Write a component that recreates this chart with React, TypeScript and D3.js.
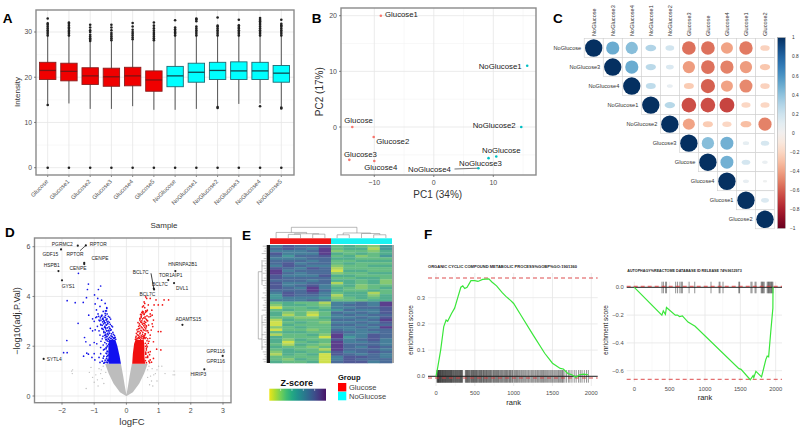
import React from "react";
import * as d3 from "d3";

const FONT = "'Liberation Sans', Arial, sans-serif";
const AXC = "#4d4d4d";

// ---------- Panel A ----------
const sampleNames = ["Glucose","Glucose1","Glucose2","Glucose3","Glucose4","Glucose5","NoGlucose","NoGlucose1","NoGlucose2","NoGlucose3","NoGlucose4","NoGlucose5"];
const q1 = [19.5,19.2,18.4,18.0,18.1,16.9,17.9,18.9,19.5,19.5,19.5,18.9];
const med = [21.5,21.3,20.3,20.1,20.3,19.4,20.3,21.1,21.5,21.4,21.4,20.9];
const q3 = [23.3,23.1,22.1,22.0,22.2,21.4,22.4,23.1,23.3,23.4,23.3,22.6];
const whiskLo = [13.9,14.2,13.0,13.0,13.6,12.8,12.8,13.0,13.5,14.1,14.2,13.5];
const whiskHi = [29.0,29.0,27.8,28.0,28.2,28.0,29.0,29.0,29.0,29.0,29.0,29.0];
const outHi = [
  [29.2,29.6,30,30.4,30.8,31.2,31.6,31.9,33.0],
  [29.2,29.6,30,30.3,30.7,31,31.4,31.8,32.1],
  [28,28.3,28.6,29,29.4,30,30.4,31,31.6],
  [28.2,28.6,29,29.4,29.8,30.4,31,31.6],
  [28.4,28.8,29.2,29.6,30,30.5,31.2,32],
  [28.2,28.6,29,29.4,29.8,30.3,30.8,31.4,32.1],
  [29.2,29.6,29.9,30.2,30.6,31,32.6],
  [29.2,29.6,30,30.4,30.8,31.2,32.4,32.8,33],
  [29.2,29.6,30,30.4,30.8,31.2,31.4,33.2],
  [29.2,29.6,30,30.4,30.8,31.1,31.5,32.7],
  [29.2,29.6,30,30.4,30.8,31.2,31.6,32,32.4,32.7,33.1],
  [29.2,29.6,30,30.4,30.8,31.2,31.5,31.8,32.7],
];
const outLo = [[13.85],[],[],[],[],[],[],[],[13.2,13.4],[],[13.6],[13.1,13.3]];
const zeroOutlier = 0;
const intensityTicks = [0,10,20,30];
const intensityMinor = [5,15,25];

// ---------- Panel B ----------
const pcaNames = ["Glucose1","Glucose","Glucose2","Glucose3","Glucose4","NoGlucose1","NoGlucose2","NoGlucose","NoGlucose3","NoGlucose4"];
const pc1 = [-8.9,-13.7,-10.1,-14.2,-10,15.7,14.7,10.5,9.2,7.5];
const pc2 = [20,0,-1.8,-5.9,-6.1,11,0,-5.3,-5.6,-7.4];
const pcaLabelX = [385,344.3,376.3,344,364.3,478.7,472.7,482,459,408];
const pcaLabelY = [14.3,120,141,153.7,166.7,65.7,125.3,150.3,162.7,169.3];

// ---------- Panel C ----------
const corrNames = ["NoGlucose","NoGlucose3","NoGlucose4","NoGlucose1","NoGlucose2","Glucose3","Glucose","Glucose4","Glucose1","Glucose2"];
const corrUpper = [
  [1,.5,.42,.3,.18,-.55,-.55,-.4,-.52,-.22],
  [1,.5,.27,.14,-.42,-.55,-.5,-.42,-.27],
  [1,.25,.07,-.25,-.6,-.4,-.48,-.22],
  [1,.28,-.65,-.65,-.68,-.2,-.2],
  [1,-.4,-.25,-.2,-.3,-.5],
  [1,.42,.48,.08,.16],
  [1,.48,.17,.06],
  [1,.07,.03],
  [1,.14],
  [1],
];
const corrTicks = [1,.8,.6,.4,.2,0,-.2,-.4,-.6,-.8,-1];

// ---------- Panel D ----------
const blueLogFC = [-1.49,-1.18,-1.21,-.8,-.87,-.99,-1.84,-1.59,-1.34,-1.24,-.89,-.77,-.97,-.82,-.66,-.61,-.93,-.72,-.62,-1.17,-1.05,-.95,-1,-.85,-.73,-.68,-.79,-.9,-1.12,-1.05,-.97,-.85,-.75,-.82,-.73,-1.5,-1.85,-1.3,-1.26,-1.13,-1,-.92,-.79,-.72,-.8,-.71,-1.95,-1.84,-1.23,-1.07,-1,-.98,-.85,-.8,-.75,-.7,-.82,-.68,-1.33,-1.18,-.88,-.76,-.66,-.6,-.92,-.78,-.65,-.74,-.63,-.6,-.69,-.62,-.58,-.65,-.6,-.7,-.75,-.64,-.59,-.62,-.67,-.57,-.55,-.6,-.68,-.63,-.58,-.54,-.72,-.66,-.61,-.57,-.53,-.59,-.63,-.7,-.56,-.61,-.65,-.52,
  -.86,-.81,-.77,-.73,-.69,-.65,-.6,-.56,-.52,-.83,-.79,-.74,-.7,-.66,-.62,-.57,-.53,-.49,-.8,-.75,-.71,-.67,-.63,-.58,-.54,-.5,-.46,-.76,-.72,-.68,-.64,-.59,-.55,-.51,-.47,-.43,-.7,-.66,-.62,-.58,-.54,-.5,-.46,-.42,-.68,-.64,-.6,-.56,-.52,-.48,-.44,-.4,-.37,-.66,-.61,-.57,-.53,-.49,-.45,-.41,-.38,-.35,-.64,-.6,-.55,-.51,-.47,-.43,-.39,-.36,-.33,-.62,-.59,-.63,-.6,-.61,-.58,-.62,-.59,-.63];
const blueLogP = [4.93,4.5,4.28,4.42,4.28,4.06,3.83,3.75,3.76,3.95,3.92,3.85,3.7,3.6,3.72,3.52,3.46,3.4,3.42,3.25,3.1,3.15,3,3.05,3.1,2.95,2.85,2.8,2.72,2.62,2.66,2.62,2.7,2.45,2.4,2.92,2.23,2.35,2.18,2.05,2.15,2.1,2.2,2.05,1.95,1.85,1.74,1.74,1.72,1.55,1.7,1.45,1.55,1.7,1.4,1.6,1.35,1.35,1.6,1.68,3.3,3.25,3.32,3.3,3.18,3.2,3.15,3.12,3.05,2.98,3,2.85,2.9,2.75,2.62,2.55,2.3,2.42,2.5,2.28,2.15,2.2,2.08,1.98,1.88,1.72,1.78,1.65,1.52,1.44,1.58,1.48,1.38,1.34,1.95,1.32,1.42,3.55,3.42,2.72,
  3.2,3.14,3.22,3.08,3.17,3.24,3.1,3.2,3.16,3.02,3.05,2.98,3.03,2.94,3.07,3,2.96,3.09,2.88,2.84,2.9,2.8,2.86,2.92,2.78,2.88,2.82,2.72,2.68,2.76,2.7,2.74,2.64,2.71,2.66,2.78,2.6,2.55,2.62,2.52,2.58,2.64,2.5,2.56,2.44,2.48,2.4,2.46,2.52,2.42,2.38,2.48,2.43,2.34,2.38,2.3,2.36,2.32,2.4,2.34,2.3,2.36,2.26,2.22,2.28,2.24,2.3,2.26,2.32,2.34,2.28,2.1,2.02,1.9,1.8,1.7,1.62,1.5,1.42,1.36];
const redLogFC = [.63,.74,.92,.86,.99,1.12,1.17,1.31,.68,.65,.79,.6,.74,.84,.82,.99,1.07,.74,.84,.94,1.07,.74,.84,.68,.63,.74,.72,.7,.78,.66,.55,.6,.52,.48,.57,.64,.7,.75,.8,.58,.62,.66,.56,.5,.46,.42,.62,.6,.66,.68,.58,.54,.61,.66,.64,.7,.59,.73,.65,.62,.68,.72,.66,.6,.57,.53,.5,.55,.44,.42,.47,.8,.77,.69,
  .36,.4,.44,.48,.52,.56,.6,.64,.38,.42,.46,.5,.54,.58,.62,.33,.37,.41,.45,.49,.53,.57,.61,.31,.35,.39,.43,.47,.51,.55,.59,.3,.34,.38,.42,.46,.5,.54,.57,.29,.33,.37,.41,.45,.49,.53,.56,.28,.32,.36,.4,.44,.48,.52,.55,.58,.42,.46,.5,.54,.58,.47,.51,.55,.59,.63,.6,.62,.6,.61,.59,.62,.6];
const redLogP = [3.92,3.92,3.86,3.66,3.66,3.66,3.86,3.86,3.66,3.45,3.45,3.98,3.3,3.05,2.79,2.59,2.59,2.45,2.18,1.88,1.85,1.78,1.51,2.12,2.05,1.45,1.34,1.4,1.36,1.6,3.3,3.42,3.38,3.35,3.55,3.22,3.18,3.2,3.25,3.12,3.08,3.02,2.92,3.4,3.2,3.05,2.82,2.7,2.62,2.55,2.5,2.42,2.35,2.3,2.22,2.2,2.12,2.32,1.98,1.92,1.75,1.66,1.55,1.68,3.72,3.62,3.58,3.78,3.28,3.1,2.95,2.9,2.65,2.85,
  2.95,2.9,2.98,3.02,2.92,3.0,2.96,3.04,2.8,2.84,2.78,2.88,2.82,2.86,2.78,2.66,2.7,2.72,2.64,2.74,2.68,2.76,2.62,2.52,2.58,2.6,2.54,2.62,2.56,2.64,2.5,2.4,2.46,2.44,2.5,2.42,2.48,2.38,2.44,2.34,2.32,2.36,2.38,2.34,2.4,2.32,2.36,2.28,2.26,2.3,2.32,2.27,2.33,2.29,2.35,2.31,3.12,3.16,3.1,3.14,3.18,3.26,3.34,3.28,3.36,3.4,2.0,1.85,1.7,1.55,1.42,1.34,1.76];
const grayLogFC = [-1.7,-1.68,-1.67,-1.15,-1.05,-1,-.95,-.9,-.85,-.8,-.75,.7,.8,.85,.9,.95,1,1.1,1.2,1.45,1.48,1.5,-1.25,-.72,-.78,-.7,.72,.75,.78,.66,-.64,.66,.95,.82,-1.1,-.88];
const grayLogP = [1,.9,1.05,.95,.75,.55,.85,.65,1.1,.9,.7,1.2,1.1,.85,.9,.6,1.2,1.2,.9,.85,1,.85,.3,1.2,1.05,.5,.45,.8,.6,1.05,.95,.75,1.05,.4,1.15,.4];
// outlines of the saturated clouds, as (logFC, -log10 P)
const grayCloudFC = [-.01,-.2,-.4,-.55,-.66,-.17,-.1,-.05,0,.05,.1,.17,.66,.55,.4,.2,.01];
const grayCloudP = [0,.15,.5,.9,1.3,1.3,.8,.4,.05,.4,.8,1.3,1.3,.9,.5,.15,0];
const blueCloudFC = [-.55,-.56,-.56,-.54,-.34,-.28,-.21,-.17];
const blueCloudP = [1.3,1.6,2,2.25,2.25,2,1.6,1.3];
const redCloudFC = [.18,.2,.24,.28,.54,.56,.56,.58];
const redCloudP = [1.3,1.7,2.1,2.25,2.25,2,1.6,1.3];
const geneFC = [-1.51,-2.03,-1.26,-2.11,-1.31,-1.31,-2,-2.57,.85,.86,1.3,1.52,1.48,1.74,2.99,2.42];
const geneP = [6.04,5.89,6.05,5.02,5.35,5.3,4.65,1.49,4.32,4.28,4.66,5.02,4.54,2.86,1.61,1.07];
const geneNames = ["PGRMC2","GDF15","RPTOR","RPTOR","CENPE","CENPE","HSPB1","GYS1","SYTL4","BCL7C","BCL7C","BCL7C","TOR1AIP1","HNRNPA2B1","DVL1","ADAMTS15","GPR116","GPR116","HIRIP3"];
const geneLabelX = [62.3,50.3,98.3,75,100,78,51.7,68.3,54.3,140.7,160,147.3,170.7,182.7,182,188.3,215.7,215.7,198.3];
const geneLabelY = [244,254.7,244,254,258,268.7,265.7,286,359,272.7,284,294,275.3,264.7,288.3,319.7,351,361.3,374.7];

// ---------- Panel E ----------
const heatRows = [
"6877834325","7876934415","6667923324","8666943434","7577834235","6667744333","7776733444","7867734333","6876623344","8768713333",
"9677704433","9767723344","8666844333","8777733443","7776744342","8667714342","8678634233","8769643234","7779743343","6878634413",
"5877614424","5666523434","6667633344",
"3433166769","2443267769","0334366778","3433457668","4231376768","4130367677","3322466768","1433377679","0343266768","0433377677",
"2343366769","0332376677","3443387667","1334296687","4333095687","4243386786","4034396676","3143297776","4332397687","3433197776",
"2443386787","1434087676","3333068876","3243068777","4334078867"];
const heatPalette = ["#cfe04c","#aed45e","#86c873","#66bc84","#52ae8e","#47999a","#47809b","#4b6c99","#505a96","#5b3f8d"];
const rowStubs = [4,2,3,5,1,3,4,2,5,3,2,4,1,3,5,2,4,3,1,4,2,5,3,2,4,3,5,1,4,2,3,5,4,2,1,3,5,2,4,3,2,5,1,4,3,2,4,3];
type Den = number | [number, Den, Den];
const colTree: Den = [1,[.52,0,[.4,[.34,1,2],[.36,3,4]]],[.47,[.3,5,6],[.42,7,[.3,8,9]]]];
const groupNames = ["Glucose","NoGlucose"];

// ---------- Panel F ----------
const esRank1 = [0,20,60,100,130,150,200,240,280,320,345,370,400,450,500,540,600,680,720,780,850,900,960,1000,1100,1250,1400,1500,1600,1640,1700,1750,1800,1850,1900,1960];
const esVal1 = [0,.03,.1,.19,.215,.21,.24,.26,.3,.34,.345,.335,.34,.365,.365,.362,.37,.372,.36,.345,.32,.305,.29,.278,.23,.158,.088,.05,.03,.028,.01,.006,-.004,.006,.008,.006];
const hits1 = [12,18,22,28,33,36,41,47,52,55,61,66,72,78,84,88,95,100,106,112,118,121,128,135,141,146,152,158,163,171,176,182,188,193,199,204,211,218,224,231,237,245,252,258,266,271,279,284,292,298,305,311,318,322,329,336,343,377,384,392,399,406,414,421,429,436,447,455,462,468,476,483,491,498,507,514,521,529,536,548,556,563,571,578,586,594,603,612,618,627,635,644,651,660,668,676,688,695,703,712,721,733,741,752,761,770,778,789,797,806,815,827,836,845,858,866,878,887,896,908,917,926,938,947,958,966,978,986,1003,1014,1027,1035,1048,1059,1072,1083,1097,1108,1121,1133,1146,1158,1172,1186,1197,1211,1226,1238,1251,1264,1279,1291,1306,1318,1331,1347,1358,1372,1385,1396,1411,1425,1438,1452,1466,1479,1493,1506,1521,1534,1548,1562,1577,1589,1604,1618,1629,1640,1660,1682,1708,1725,1751,1780,1805,1836,1858,1881,1910,1938,1962];
const esRank2 = [0,390,410,440,455,580,610,640,680,760,860,1480,1510,1640,1680,1690,1720,1800,1860,1880,1900,1930,1960,1962];
const esVal2 = [0,-.2,-.17,-.195,-.145,-.2,-.2,-.21,-.205,-.25,-.28,-.585,-.59,-.665,-.635,-.65,-.605,-.645,-.52,-.495,-.5,-.32,-.15,0];
const hits2 = [392,412,442,456,585,612,645,665,680,775,855,1085,1200,1212,1255,1478,1488,1650,1665,1708,1722,1795,1805,1815,1825,1838,1880,1892,1900,1910,1920,1930,1940,1950,1960];
const rankTicks = [0,500,1000,1500,2000];

// ---------- helpers ----------
const fmtMinus = (v: number, f = (x: number) => String(Math.abs(x))) => (v < 0 ? "\u2212" : "") + f(v);
const T = (p: any) => <text fontFamily={FONT} {...p} />;

function Frame({ x0, x1, y0, y1, xM, yM, xm = [], ym = [] }: any) {
  return (
    <g>
      {xm.map((v: number) => <line key={"a" + v} x1={v} x2={v} y1={y0} y2={y1} stroke="#f3f3f3" strokeWidth={0.6} />)}
      {ym.map((v: number) => <line key={"b" + v} y1={v} y2={v} x1={x0} x2={x1} stroke="#f3f3f3" strokeWidth={0.6} />)}
      {xM.map((v: number) => <line key={"c" + v} x1={v} x2={v} y1={y0} y2={y1} stroke="#e6e6e6" strokeWidth={0.8} />)}
      {yM.map((v: number) => <line key={"d" + v} y1={v} y2={v} x1={x0} x2={x1} stroke="#e6e6e6" strokeWidth={0.8} />)}
    </g>
  );
}
const Border = ({ x0, x1, y0, y1 }: any) => <rect x={x0} y={y0} width={x1 - x0} height={y1 - y0} fill="none" stroke="#8a8a8a" strokeWidth={1.4} />;

function PanelA() {
  const x = d3.scalePoint<string>().domain(sampleNames).range([47.7, 281.3]);
  const y = d3.scaleLinear().domain([0, 30]).range([167.7, 32]);
  const [L, R, Tp, B] = [36, 294, 10, 175];
  return (
    <g>
      <Frame x0={L} x1={R} y0={Tp} y1={B} xM={sampleNames.map((s) => x(s)!)} yM={intensityTicks.map(y)} ym={intensityMinor.map(y)} />
      {sampleNames.map((s, i) => {
        const cx = x(s)!;
        const isG = i < 6;
        const stroke = isG ? "#8a1f1f" : "#1d6a72";
        const medC = isG ? "#7a1414" : "#0f4a50";
        return (
          <g key={s}>
            <line x1={cx} x2={cx} y1={y(whiskHi[i])} y2={y(whiskLo[i])} stroke="#555" strokeWidth={1} />
            {[...outHi[i], ...outLo[i], zeroOutlier].map((v, j) => <circle key={j} cx={cx} cy={y(v)} r={1.3} fill="#222" />)}
            <rect x={cx - 8.2} width={16.4} y={y(q3[i])} height={y(q1[i]) - y(q3[i])} fill={isG ? "#f00000" : "#00ffff"} stroke={stroke} strokeWidth={0.9} />
            <line x1={cx - 8.2} x2={cx + 8.2} y1={y(med[i])} y2={y(med[i])} stroke={medC} strokeWidth={1.3} />
            <line x1={cx} x2={cx} y1={B} y2={B + 2} stroke="#555" strokeWidth={0.7} />
            <T transform={`translate(${cx + 1},${B + 7}) rotate(-45)`} textAnchor="end" fontSize={6} fill="#555">{s}</T>
          </g>
        );
      })}
      <Border x0={L} x1={R} y0={Tp} y1={B} />
      {intensityTicks.map((v) => (
        <g key={v}>
          <line x1={L - 2} x2={L} y1={y(v)} y2={y(v)} stroke="#555" strokeWidth={0.7} />
          <T x={L - 4} y={y(v) + 2.4} textAnchor="end" fontSize={6.8} fill={AXC}>{v}</T>
        </g>
      ))}
      <T transform="translate(19.5,92) rotate(-90)" textAnchor="middle" fontSize={8} fill="#333">Intensity</T>
      <T x={164} y={228} textAnchor="middle" fontSize={8} fill="#333">Sample</T>
    </g>
  );
}

function PanelB() {
  const x = d3.scaleLinear().domain([-10, 10]).range([374.3, 493.3]);
  const y = d3.scaleLinear().domain([0, 20]).range([127, 15.7]);
  const [L, R, Tp, B] = [341, 536, 8, 175];
  const xt = [-10, 0, 10];
  const yt = [0, 10, 20];
  return (
    <g>
      <Frame x0={L} x1={R} y0={Tp} y1={B} xM={xt.map(x)} yM={yt.map(y)} xm={[-5, 5, 15].map(x)} ym={[-5, 5, 15].map(y)} />
      <line x1={454.5} y1={169} x2={x(pc1[9])} y2={y(pc2[9])} stroke="#333" strokeWidth={0.7} />
      {pcaNames.map((n, i) => (
        <g key={n}>
          <circle cx={x(pc1[i])} cy={y(pc2[i])} r={1.3} fill={n.startsWith("No") ? "#00bfc4" : "#f8766d"} />
          <T x={pcaLabelX[i]} y={pcaLabelY[i] + 2.8} fontSize={7.8} fill="#222">{n}</T>
        </g>
      ))}
      <Border x0={L} x1={R} y0={Tp} y1={B} />
      {xt.map((v) => (
        <g key={v}>
          <line x1={x(v)} x2={x(v)} y1={B} y2={B + 2} stroke="#555" strokeWidth={0.7} />
          <T x={x(v)} y={185.2} textAnchor="middle" fontSize={7} fill={AXC}>{fmtMinus(v)}</T>
        </g>
      ))}
      {yt.map((v) => (
        <g key={v}>
          <line x1={L - 2} x2={L} y1={y(v)} y2={y(v)} stroke="#555" strokeWidth={0.7} />
          <T x={L - 4} y={y(v) + 2.5} textAnchor="end" fontSize={7} fill={AXC}>{v}</T>
        </g>
      ))}
      <T x={437.7} y={197.5} textAnchor="middle" fontSize={10} fill="#333">PC1 (34%)</T>
      <T transform="translate(322.5,91.7) rotate(-90)" textAnchor="middle" fontSize={10} fill="#333">PC2 (17%)</T>
    </g>
  );
}

function PanelC() {
  const pos = d3.scalePoint<string>().domain(corrNames);
  const xS = pos.copy().range([593.7, 765]);
  const yS = pos.copy().range([48, 219.3]);
  const color = (v: number) => d3.interpolateRdBu((v + 1) / 2);
  const half = 9.5;
  const bar = d3.scaleLinear().domain([1, -1]).range([37.7, 228.3]);
  const stops = d3.range(0, 1.001, 0.05);
  return (
    <g>
      {corrNames.map((n, i) => (
        <g key={n}>
          <T x={xS(n)! - half - 3} y={yS(n)! + 1.8} textAnchor="end" fontSize={5.6} fill="#333">{n}</T>
          <T transform={`translate(${xS(n)! + 1.8},36) rotate(-90)`} fontSize={5.6} fill="#333">{n}</T>
          {corrUpper[i].map((v, j) => {
            const m = corrNames[i + j];
            const cx = xS(m)!;
            const cy = yS(n)!;
            const a = Math.abs(v);
            const rx = 8.7 * Math.pow(a, 0.4);
            const k = a >= 0.42 ? 1 : a <= 0.3 ? 0.6 : 0.6 + ((a - 0.3) / 0.12) * 0.4;
            return (
              <g key={m}>
                <rect x={cx - half} y={cy - half} width={half * 2} height={half * 2} fill="white" stroke="#cfcfcf" strokeWidth={0.6} />
                <ellipse cx={cx} cy={cy} rx={rx} ry={rx * k} fill={color(v)} />
              </g>
            );
          })}
        </g>
      ))}
      <defs>
        <linearGradient id="corrGrad" x1="0" y1="0" x2="0" y2="1">
          {stops.map((s) => <stop key={s} offset={s} stopColor={color(1 - 2 * s)} />)}
        </linearGradient>
        <linearGradient id="zGrad" x1="0" y1="0" x2="1" y2="0">
          {d3.range(0, 1.001, 0.1).map((s) => <stop key={s} offset={s} stopColor={d3.interpolateViridis(0.97 - s * 0.92)} />)}
        </linearGradient>
      </defs>
      <rect x={777.7} y={37.7} width={7.6} height={190.6} fill="url(#corrGrad)" stroke="#888" strokeWidth={0.4} />
      {corrTicks.map((v) => (
        <T key={v} x={v < 0 ? 790 : 792} y={bar(v) + 1.7} fontSize={4.8} fill="#333">{v < 0 ? "\u2212" + Math.abs(v) : String(v)}</T>
      ))}
    </g>
  );
}

function PanelD() {
  const x = d3.scaleLinear().domain([-2, 3]).range([62, 223]);
  const y = d3.scaleLinear().domain([0, 6]).range([396, 246.7]);
  const [L, R, Tp, B] = [34.5, 231, 238, 402.7];
  const xt = [-2, -1, 0, 1, 2, 3];
  const yt = [0, 2, 4, 6];
  const poly = (a: number[], b: number[]) => d3.line<number>().x((v) => x(v)).y((_, i) => y(b[i]))(a) + "Z";
  return (
    <g>
      <Frame x0={L} x1={R} y0={Tp} y1={B} xM={xt.map(x)} yM={yt.map(y)} xm={[-2.5, -1.5, -.5, .5, 1.5, 2.5].map(x)} ym={[1, 3, 5].map(y)} />
      <path d={poly(grayCloudFC, grayCloudP)} fill="#bdbdbd" />
      {grayLogFC.map((v, i) => <circle key={i} cx={x(v)} cy={y(grayLogP[i])} r={0.7} fill="#bdbdbd" />)}
      <path d={poly(blueCloudFC, blueCloudP)} fill="#1010f0" />
      <path d={poly(redCloudFC, redCloudP)} fill="#f01010" />
      {blueLogFC.map((v, i) => <circle key={i} cx={x(v)} cy={y(blueLogP[i])} r={0.85} fill="#1414e8" />)}
      {redLogFC.map((v, i) => <circle key={i} cx={x(v)} cy={y(redLogP[i])} r={0.85} fill="#f01414" />)}
      {geneFC.map((v, i) => <circle key={i} cx={x(v)} cy={y(geneP[i])} r={1.1} fill="#222" />)}
      <line x1={80} y1={250.7} x2={x(-1.26)} y2={y(6.05)} stroke="#111" strokeWidth={0.7} />
      <line x1={151} y1={273.3} x2={x(.85)} y2={y(4.32)} stroke="#111" strokeWidth={0.8} />
      {geneNames.map((n, i) => (
        <T key={i} x={geneLabelX[i]} y={geneLabelY[i] + 1.7} textAnchor="middle" fontSize={4.9} fill="#222">{n}</T>
      ))}
      <Border x0={L} x1={R} y0={Tp} y1={B} />
      {xt.map((v) => (
        <g key={v}>
          <line x1={x(v)} x2={x(v)} y1={B} y2={B + 2} stroke="#555" strokeWidth={0.7} />
          <T x={x(v)} y={413} textAnchor="middle" fontSize={7} fill={AXC}>{fmtMinus(v)}</T>
        </g>
      ))}
      {yt.map((v) => (
        <g key={v}>
          <line x1={L - 2} x2={L} y1={y(v)} y2={y(v)} stroke="#555" strokeWidth={0.7} />
          <T x={L - 4} y={y(v) + 2.5} textAnchor="end" fontSize={7} fill={AXC}>{v}</T>
        </g>
      ))}
      <T x={132} y={425} textAnchor="middle" fontSize={9.5} fill="#333">logFC</T>
      <T transform="translate(20,321) rotate(-90)" textAnchor="middle" fontSize={9} fill="#333">{"\u2212log10(adj.P.Val)"}</T>
    </g>
  );
}

function PanelE() {
  const L = 270, R = 392, Tp = 245, B = 363;
  const rows = heatRows.map((r) => r.split("").map(Number));
  const xS = d3.scaleBand<number>().domain(d3.range(10)).range([L, R]);
  const yS = d3.scaleBand<number>().domain(d3.range(rows.length)).range([Tp, B]);
  const dy = d3.scaleLinear().domain([0, 1]).range([238, 227.3]);
  const segs: [number, number, number, number][] = [];
  const walk = (n: Den): [number, number] => {
    if (typeof n === "number") return [xS(n)! + xS.bandwidth() / 2, 0];
    const [h, a, b] = n;
    const [xa, ha] = walk(a);
    const [xb, hb] = walk(b);
    segs.push([xa, dy(h), xb, dy(h)], [xa, dy(ha), xa, dy(h)], [xb, dy(hb), xb, dy(h)]);
    return [(xa + xb) / 2, h];
  };
  walk(colTree);
  return (
    <g>
      {segs.map((s, i) => <line key={i} x1={s[0]} y1={s[1]} x2={s[2]} y2={s[3]} stroke="#8c8c8c" strokeWidth={0.6} />)}
      <rect x={L} y={238.3} width={(R - L) / 2} height={5.7} fill="#f01414" />
      <rect x={(L + R) / 2} y={238.3} width={(R - L) / 2} height={5.7} fill="#19f2f2" />
      {rows.map((r, i) => r.map((v, j) => (
        <rect key={i + "-" + j} x={xS(j)} y={yS(i)} width={xS.bandwidth() + 0.3} height={yS.bandwidth() + 0.3} fill={heatPalette[v]} />
      )))}
      <rect x={R} y={Tp} width={2} height={B - Tp} fill="#a8a8a8" />
      <rect x={266.7} y={Tp} width={3.3} height={B - Tp} fill="#111" />
      {rows.map((_, i) => <line key={i} x1={266.7 - rowStubs[i]} x2={267} y1={yS(i)! + 1.2} y2={yS(i)! + 1.2} stroke="#9a9a9a" strokeWidth={0.6} />)}
      <path d={`M262,271.7H258.3V339H262M262,260V285M262,315V350`} fill="none" stroke="#8c8c8c" strokeWidth={0.6} />
      <T x={296.7} y={386} textAnchor="middle" fontSize={9} fontWeight="bold" fill="#111">Z-score</T>
      <rect x={269.3} y={388.7} width={56.7} height={12} fill="url(#zGrad)" />
      {[.2, .4, .6, .8].map((f) => <line key={f} x1={269.3 + 56.7 * f} x2={269.3 + 56.7 * f} y1={388.7} y2={391} stroke="white" strokeWidth={0.5} />)}
      <T x={338} y={379.5} fontSize={7.5} fontWeight="bold" fill="#111">Group</T>
      {groupNames.map((g, i) => (
        <g key={g}>
          <rect x={338} y={383 + i * 8.8} width={8.3} height={8.5} fill={i ? "#00ffff" : "#ff0000"} />
          <T x={349} y={390 + i * 9} fontSize={7.5} fill="#444">{g}</T>
        </g>
      ))}
    </g>
  );
}

function GSEA({ x, y, L, R, Tp, B, rk, es, hits, rugTop, rugBot, dashTop, dashBot, yTicks, title, titleX, titleY, titleLen, yLabX, rankY, tickY, fmt }: any) {
  const line = d3.line<number>().x((v) => x(v)).y((_, i) => y(es[i]));
  return (
    <g>
      <Frame x0={L} x1={R} y0={Tp} y1={B} xM={rankTicks.map(x)} yM={yTicks.map(y)} xm={[250, 750, 1250, 1750].map(x)} ym={[]} />
      {hits.map((h: number, i: number) => <line key={i} x1={x(h)} x2={x(h)} y1={rugTop} y2={rugBot} stroke="#000" strokeOpacity={0.5} strokeWidth={0.85} />)}
      <line x1={L} x2={R} y1={y(0)} y2={y(0)} stroke="#222" strokeWidth={1} />
      <line x1={L} x2={R} y1={dashTop} y2={dashTop} stroke="#d9383a" strokeWidth={0.9} strokeDasharray="4 3" />
      <line x1={L} x2={R} y1={dashBot} y2={dashBot} stroke="#d9383a" strokeWidth={0.9} strokeDasharray="4 3" />
      <path d={line(rk)!} fill="none" stroke="#3ae63a" strokeWidth={1.2} />
      <T x={titleX} y={titleY} fontSize={3.9} fontWeight="bold" fill="#222" textLength={titleLen} lengthAdjust="spacingAndGlyphs">{title}</T>
      {rankTicks.map((v) => <T key={v} x={x(v)} y={tickY} textAnchor="middle" fontSize={5.8} fill={AXC}>{v}</T>)}
      {yTicks.map((v: number) => <T key={v} x={L - 3} y={y(v) + 2} textAnchor="end" fontSize={5.8} fill={AXC}>{fmtMinus(v, fmt)}</T>)}
      <T x={(x(0) + x(2000)) / 2} y={rankY} textAnchor="middle" fontSize={7.5} fill="#222">rank</T>
      <T transform={`translate(${yLabX},330) rotate(-90)`} textAnchor="middle" fontSize={6.5} fill="#222">enrichment score</T>
    </g>
  );
}

export default function App() {
  const f1 = (v: number) => Math.abs(v).toFixed(1);
  return (
    <svg width={800} height={430} viewBox="0 0 800 430" style={{ position: "absolute", left: 0, top: 0, background: "white" }}>
      <PanelA />
      <PanelB />
      <PanelC />
      <PanelD />
      <PanelE />
      <GSEA x={d3.scaleLinear().domain([0, 2000]).range([436, 591.3])} y={d3.scaleLinear().domain([0, .3]).range([376.3, 297.7])}
        L={428} R={597.7} Tp={273} B={386} rk={esRank1} es={esVal1} hits={hits1} rugTop={370} rugBot={382.7} dashTop={278} dashBot={378}
        yTicks={[0, .1, .2, .3]} title="ORGANIC CYCLIC COMPOUND METABOLIC PROCESS%GOBP%GO:1901360" titleX={428} titleY={267.5} titleLen={149}
        yLabX={413} rankY={404.5} tickY={395} fmt={f1} />
      <GSEA x={d3.scaleLinear().domain([0, 2000]).range([634.3, 775.7])} y={d3.scaleLinear().domain([0, -.6]).range([287.3, 370.7])}
        L={626.7} R={782} Tp={281.7} B={381.7} rk={esRank2} es={esVal2} hits={hits2} rugTop={281.7} rugBot={293.3} dashTop={286.3} dashBot={379.3}
        yTicks={[0, -.2, -.4, -.6]} title="AUTOPHAGY%REACTOME DATABASE ID RELEASE 74%9612973" titleX={627.3} titleY={272} titleLen={114.4}
        yLabX={607.7} rankY={400} tickY={391} fmt={f1} />
      <g fontFamily={FONT} fontWeight="bold" fontSize={13.5} fill="#000">
        <text x={2.7} y={23.3}>A</text>
        <text x={311.7} y={23.3}>B</text>
        <text x={553} y={22.7}>C</text>
        <text x={5} y={236.7}>D</text>
        <text x={242} y={240}>E</text>
        <text x={424} y={239}>F</text>
      </g>
    </svg>
  );
}
